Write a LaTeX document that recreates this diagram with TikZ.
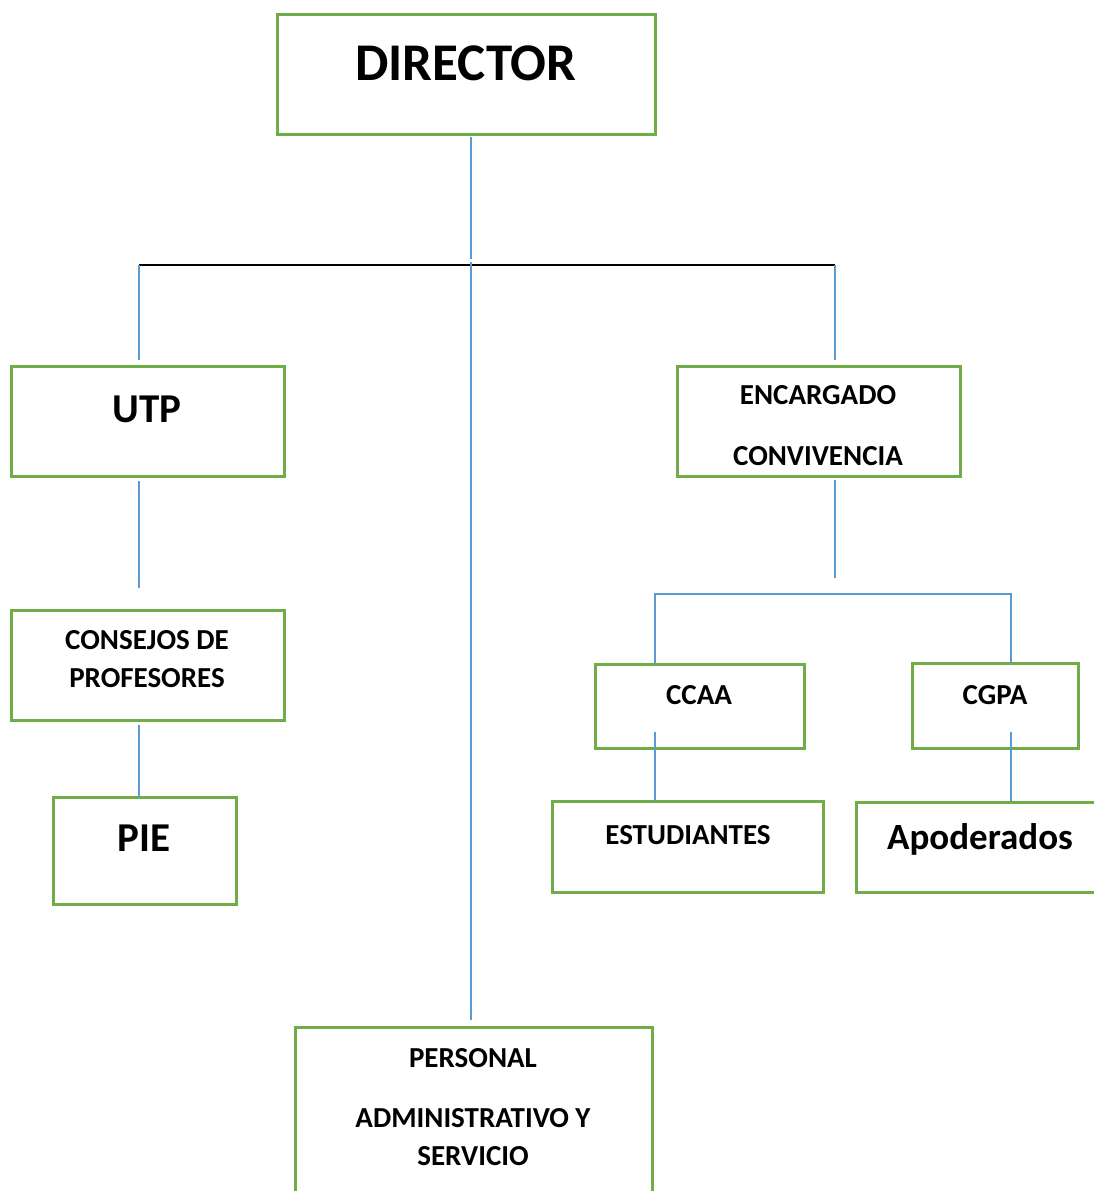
\documentclass[tikz,border=0pt]{standalone}
\usepackage{fontspec}
\setmainfont{Carlito}
\usepackage{xcolor}
\usepackage{tikz}
\usetikzlibrary{positioning, calc}
\definecolor{boxgreen}{HTML}{70AD47}
\definecolor{linkblue}{HTML}{5B9BD5}

\begin{document}
\begin{tikzpicture}[x=1pt, y=-1pt,
		orgbox/.style={draw=boxgreen, line width=3pt, fill=white, inner sep=0pt},
		small/.style={anchor=base, inner sep=0pt, align=center, font=\bfseries\fontsize{29}{38}\selectfont},
		large/.style={anchor=base, inner sep=0pt, font=\bfseries\fontsize{41}{48}\selectfont},
		link/.style={draw=linkblue, line width=1.3pt}]
		\useasboundingbox (0,0) rectangle (1094,1191);
		\clip (0,0) rectangle (1094,1191);
		
		\node (director) [orgbox, minimum width=378, minimum height=120] at (466,74) {};
		\node (directortxt) [anchor=base, inner sep=0pt, font=\bfseries\fontsize{53}{60}\selectfont] at (466,80) {DIRECTOR};
		
		\node (utp) [orgbox, minimum width=273, minimum height=110] at (147.5,421) {};
		\node (utptxt) [large] at (147,422) {UTP};
		
		\node (consejos) [orgbox, minimum width=273, minimum height=110] at (147.5,665) {};
		\node (consejostxt) [small] at (147,687) {CONSEJOS DE\\PROFESORES};
		
		\node (pie) [orgbox, minimum width=183, minimum height=107] at (144.5,850.5) {};
		\node (pietxt) [large] at (144,851) {PIE};
		
		\node (encargado) [orgbox, minimum width=283, minimum height=110] at (818.5,421) {};
		\node (encargadotxt) [small, font=\bfseries\fontsize{29}{61}\selectfont] at (818,465) {ENCARGADO\\CONVIVENCIA};
		
		\node (ccaa) [orgbox, minimum width=209, minimum height=84] at (699.5,706) {};
		\node (ccaatxt) [small] at (699,704) {CCAA};
		
		\node (cgpa) [orgbox, minimum width=166, minimum height=85] at (995,705.5) {};
		\node (cgpatxt) [small] at (995,704) {CGPA};
		
		\node (estudiantes) [orgbox, minimum width=271, minimum height=91] at (687.5,846.5) {};
		\node (estudiantestxt) [small] at (688,844) {ESTUDIANTES};
		
		\node (apoderados) [orgbox, minimum width=254, minimum height=90] at (983,847) {};
		\node (apoderadostxt) [anchor=base, inner sep=0pt, font=\bfseries\fontsize{37}{44}\selectfont] at (980,849) {Apoderados};
		
		\node (personal) [orgbox, minimum width=357, minimum height=183] at (473.5,1118.5) {};
		\node (personaltxt) [small] at (473,1165) {PERSONAL\\[22pt]ADMINISTRATIVO Y\\SERVICIO};
		
		% branch points
		\coordinate (barleft) at (139,265);
		\coordinate (barright) at (835,265);
		\coordinate (barmid) at (471,262);
		\coordinate (forkleft) at (655,594);
		\coordinate (forkright) at (1011,594);
		
		\draw [link] (471,137) -- (471,259);
		\draw [line width=1.6pt] (barleft) -- (barright);
		\draw [link] (barleft) -- (139,360);
		\draw [link] (barright) -- (835,360);
		\draw [link] (barmid) -- (471,1020);
		
		\draw [link] (139,481) -- (139,588);
		\draw [link] (139,725) -- (139,797);
		
		\draw [link] (835,480) -- (835,578);
		\draw [link] (655,663) -- (forkleft) -- (forkright) -- (1011,663);
		\draw [link] (655,732) -- (655,801);
		\draw [link] (1011,732) -- (1011,801);
		
	\end{tikzpicture}
\end{document}
